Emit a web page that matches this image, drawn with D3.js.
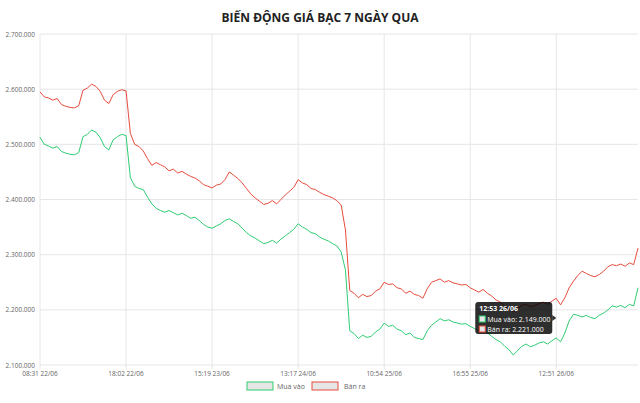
<!DOCTYPE html>
<html><head><meta charset="utf-8">
<script src="https://cdn.jsdelivr.net/npm/d3@7"></script>
<style>body{margin:0;background:#fff}svg{display:block}</style>
</head><body><svg id="c" width="640" height="403"></svg>
<script>
const xTickLabels = ["08:31 22/06","18:02 22/06","15:19 23/06","13:17 24/06","10:54 25/06","16:55 25/06","12:51 26/06"];
const yTicks = [2100000,2200000,2300000,2400000,2500000,2600000,2700000];
const sellK = [2595,2586,2584,2580,2583,2572,2569,2567,2566,2570,2598,2602,2609,2605,2596,2580,2574,2590,2596,2599,
2597,2520,2500,2496,2488,2474,2462,2467,2463,2459,2452,2455,2448,2451,2446,2442,2439,2434,2427,2424,
2421,2426,2428,2436,2450,2444,2438,2430,2420,2410,2403,2397,2391,2393,2398,2392,2400,2408,2415,2422,
2436,2430,2427,2420,2418,2413,2409,2406,2403,2398,2390,2345,2235,2230,2222,2228,2224,2226,2234,2238,
2250,2246,2247,2240,2238,2230,2234,2228,2226,2221,2238,2250,2253,2256,2250,2253,2249,2247,2245,2246,
2240,2236,2232,2237,2230,2225,2218,2214,2207,2202,2196,2203,2208,2210,2205,2208,2211,2214,2210,2216,
2221,2209,2222,2240,2252,2262,2270,2266,2262,2260,2264,2270,2278,2282,2280,2283,2279,2285,2282,2312];
const buyK = [2513,2500,2497,2493,2496,2487,2484,2482,2481,2485,2514,2518,2526,2522,2512,2496,2490,2508,2514,2518,
2516,2440,2424,2420,2418,2404,2392,2384,2380,2377,2380,2376,2372,2375,2371,2366,2368,2362,2355,2350,
2348,2352,2356,2362,2365,2360,2356,2348,2340,2334,2330,2325,2320,2322,2326,2321,2328,2334,2340,2346,
2356,2350,2346,2340,2338,2332,2328,2325,2320,2316,2305,2272,2162,2157,2148,2154,2150,2152,2160,2165,
2176,2170,2172,2165,2162,2155,2158,2150,2148,2146,2162,2172,2178,2184,2180,2182,2178,2176,2174,2175,
2170,2166,2162,2166,2158,2152,2146,2142,2134,2128,2118,2126,2134,2138,2133,2136,2140,2142,2138,2144,
2149,2142,2158,2180,2192,2190,2187,2190,2186,2184,2190,2194,2200,2207,2205,2208,2204,2210,2207,2240];
const tooltipIndex = 120;
const tooltipLabel = "12:53 26/06";

const svg = d3.select("#c");
const L=40,R=638,T=34,B=365;
const x = d3.scaleLinear().domain([0,sellK.length-1]).range([L,R]);
const y = d3.scaleLinear().domain([2100000,2700000]).range([B,T]);
const fmt = v => d3.format(",")(v).replace(/,/g,".");
const font="Open Sans, Arial, sans-serif";

const g=svg.append("g");
yTicks.forEach(t=>{
  g.append("line").attr("x1",L).attr("x2",R).attr("y1",y(t)).attr("y2",y(t)).attr("stroke","#e6e6e6");
  g.append("text").attr("x",L-5).attr("y",y(t)+2.5).attr("text-anchor","end").attr("font-size",6.5)
   .attr("fill","#666").attr("font-family",font).text(fmt(t));
});
xTickLabels.forEach((lab,k)=>{
  const xx=x(k*20);
  g.append("line").attr("x1",xx).attr("x2",xx).attr("y1",T).attr("y2",B+4).attr("stroke","#e6e6e6");
  g.append("text").attr("x",xx).attr("y",B+11).attr("text-anchor","middle").attr("font-size",6.5)
   .attr("fill","#666").attr("font-family",font).text(lab);
});

const line=d3.line().x((d,i)=>x(i)).y(d=>y(d*1000));
svg.append("path").datum(sellK).attr("d",line).attr("fill","none").attr("stroke","#e74c3c").attr("stroke-width",1);
svg.append("path").datum(buyK).attr("d",line).attr("fill","none").attr("stroke","#2ecc71").attr("stroke-width",1);

svg.append("text").attr("x",320).attr("y",22).attr("text-anchor","middle").attr("font-size",12)
  .attr("font-weight","bold").attr("fill","#222").attr("font-family",font).text("BIẾN ĐỘNG GIÁ BẠC 7 NGÀY QUA");

// legend
[["Mua vào","#2ecc71",247,277],["Bán ra","#e74c3c",312,344]].forEach(([t,c,bx,tx])=>{
  svg.append("rect").attr("x",bx).attr("y",382).attr("width",26).attr("height",8).attr("fill","#e6e6e6").attr("stroke",c);
  svg.append("text").attr("x",tx).attr("y",389).attr("font-size",7).attr("fill","#666").attr("font-family",font).text(t);
});

// tooltip
const px=x(tooltipIndex);
const tg=svg.append("g").attr("font-family",font);
const tw=77, tx0=px-4-tw, ty0=302;
tg.append("rect").attr("x",tx0).attr("y",ty0).attr("width",tw).attr("height",32).attr("rx",3).attr("fill","rgba(0,0,0,0.82)");
tg.append("path").attr("d",`M${tx0+tw},${ty0+13} l4,3 l-4,3 z`).attr("fill","rgba(0,0,0,0.82)");
tg.append("text").attr("x",tx0+4).attr("y",ty0+9).attr("font-size",7).attr("font-weight","bold").attr("fill","#fff").text(tooltipLabel);
[[buyK,"Mua vào","#2ecc71"],[sellK,"Bán ra","#e74c3c"]].forEach(([arr,n,c],k)=>{
  const yy=ty0+14+k*10;
  tg.append("rect").attr("x",tx0+4).attr("y",yy).attr("width",6).attr("height",6).attr("fill","#e6e6e6").attr("stroke",c);
  tg.append("text").attr("x",tx0+12).attr("y",yy+6).attr("font-size",7).attr("fill","#fff").text(n+": "+fmt(arr[tooltipIndex]*1000));
});
</script></body></html>
